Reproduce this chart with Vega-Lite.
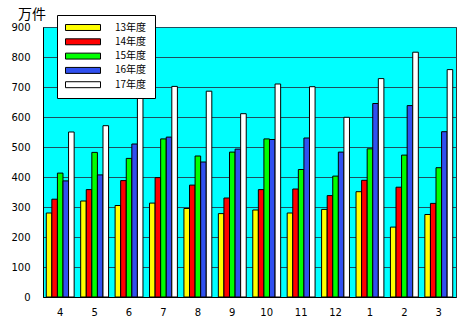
{
  "$schema": "https://vega.github.io/schema/vega-lite/v6.json",
  "autosize": {"type": "none"},
  "width": 413,
  "height": 270,
  "padding": {"left": 43, "top": 27, "right": 13, "bottom": 34},
  "background": "#ffffff",
  "title": {
    "text": "万件",
    "anchor": "start",
    "frame": "group",
    "dx": -25,
    "dy": 10,
    "offset": 3,
    "fontSize": 14,
    "fontWeight": "normal",
    "font": "Noto Sans CJK JP",
    "color": "#000000"
  },
  "config": {
    "view": {"fill": "#00FFFF", "stroke": "#333333", "strokeWidth": 1},
    "axis": {"labelFont": "DejaVu Sans", "labelFontSize": 10, "labelColor": "#000000"}
  },
  "data": {
    "values": [
      {"month": "4", "year": "13年度", "value": 280},
      {"month": "4", "year": "14年度", "value": 326},
      {"month": "4", "year": "15年度", "value": 413},
      {"month": "4", "year": "16年度", "value": 387},
      {"month": "4", "year": "17年度", "value": 550},
      {"month": "5", "year": "13年度", "value": 320},
      {"month": "5", "year": "14年度", "value": 358},
      {"month": "5", "year": "15年度", "value": 482},
      {"month": "5", "year": "16年度", "value": 407},
      {"month": "5", "year": "17年度", "value": 571},
      {"month": "6", "year": "13年度", "value": 305},
      {"month": "6", "year": "14年度", "value": 388},
      {"month": "6", "year": "15年度", "value": 462},
      {"month": "6", "year": "16年度", "value": 510},
      {"month": "6", "year": "17年度", "value": 690},
      {"month": "7", "year": "13年度", "value": 313},
      {"month": "7", "year": "14年度", "value": 398},
      {"month": "7", "year": "15年度", "value": 527},
      {"month": "7", "year": "16年度", "value": 533},
      {"month": "7", "year": "17年度", "value": 702},
      {"month": "8", "year": "13年度", "value": 295},
      {"month": "8", "year": "14年度", "value": 373},
      {"month": "8", "year": "15年度", "value": 470},
      {"month": "8", "year": "16年度", "value": 450},
      {"month": "8", "year": "17年度", "value": 686},
      {"month": "9", "year": "13年度", "value": 278},
      {"month": "9", "year": "14年度", "value": 330},
      {"month": "9", "year": "15年度", "value": 483},
      {"month": "9", "year": "16年度", "value": 493},
      {"month": "9", "year": "17年度", "value": 611},
      {"month": "10", "year": "13年度", "value": 290},
      {"month": "10", "year": "14年度", "value": 358},
      {"month": "10", "year": "15年度", "value": 527},
      {"month": "10", "year": "16年度", "value": 525},
      {"month": "10", "year": "17年度", "value": 710},
      {"month": "11", "year": "13年度", "value": 280},
      {"month": "11", "year": "14年度", "value": 360},
      {"month": "11", "year": "15年度", "value": 425},
      {"month": "11", "year": "16年度", "value": 530},
      {"month": "11", "year": "17年度", "value": 701},
      {"month": "12", "year": "13年度", "value": 292},
      {"month": "12", "year": "14年度", "value": 338},
      {"month": "12", "year": "15年度", "value": 403},
      {"month": "12", "year": "16年度", "value": 483},
      {"month": "12", "year": "17年度", "value": 599},
      {"month": "1", "year": "13年度", "value": 351},
      {"month": "1", "year": "14年度", "value": 389},
      {"month": "1", "year": "15年度", "value": 494},
      {"month": "1", "year": "16年度", "value": 645},
      {"month": "1", "year": "17年度", "value": 728},
      {"month": "2", "year": "13年度", "value": 233},
      {"month": "2", "year": "14年度", "value": 366},
      {"month": "2", "year": "15年度", "value": 473},
      {"month": "2", "year": "16年度", "value": 638},
      {"month": "2", "year": "17年度", "value": 816},
      {"month": "3", "year": "13年度", "value": 275},
      {"month": "3", "year": "14年度", "value": 312},
      {"month": "3", "year": "15年度", "value": 431},
      {"month": "3", "year": "16年度", "value": 551},
      {"month": "3", "year": "17年度", "value": 758}
    ]
  },
  "mark": {"type": "bar", "stroke": "#000000", "strokeWidth": 1},
  "encoding": {
    "x": {
      "field": "month",
      "type": "nominal",
      "sort": ["4", "5", "6", "7", "8", "9", "10", "11", "12", "1", "2", "3"],
      "scale": {"paddingInner": 0.19, "paddingOuter": 0.095},
      "axis": {
        "title": null,
        "labelAngle": 0,
        "ticks": false,
        "labelPadding": 10,
        "domainColor": "#000000",
        "grid": false
      }
    },
    "xOffset": {
      "field": "year",
      "type": "nominal",
      "sort": ["13年度", "14年度", "15年度", "16年度", "17年度"]
    },
    "y": {
      "field": "value",
      "type": "quantitative",
      "scale": {"domain": [0, 900], "nice": false},
      "axis": {
        "title": null,
        "values": [0, 100, 200, 300, 400, 500, 600, 700, 800, 900],
        "ticks": false,
        "labelPadding": 13,
        "domainColor": "#000000",
        "gridColor": "#1f4f5f",
        "gridWidth": 1,
        "gridOpacity": 1
      }
    },
    "color": {
      "field": "year",
      "type": "nominal",
      "sort": ["13年度", "14年度", "15年度", "16年度", "17年度"],
      "scale": {
        "domain": ["13年度", "14年度", "15年度", "16年度", "17年度"],
        "range": ["#FFFF00", "#FF0000", "#00FF00", "#3050F0", "#FFFFFF"]
      },
      "legend": {
        "title": null,
        "orient": "none",
        "legendX": 14,
        "legendY": -12,
        "direction": "vertical",
        "fillColor": "#FFFFFF",
        "strokeColor": "#000000",
        "padding": 8,
        "symbolType": "M-1,-0.17H1V0.17H-1Z",
        "symbolSize": 1225,
        "symbolStrokeColor": "#000000",
        "symbolStrokeWidth": 1,
        "symbolOpacity": 1,
        "clipHeight": 9,
        "labelFont": "Noto Sans CJK JP",
        "labelFontSize": 10,
        "labelColor": "#000000",
        "labelOffset": 14,
        "rowPadding": 3.3
      }
    }
  }
}
